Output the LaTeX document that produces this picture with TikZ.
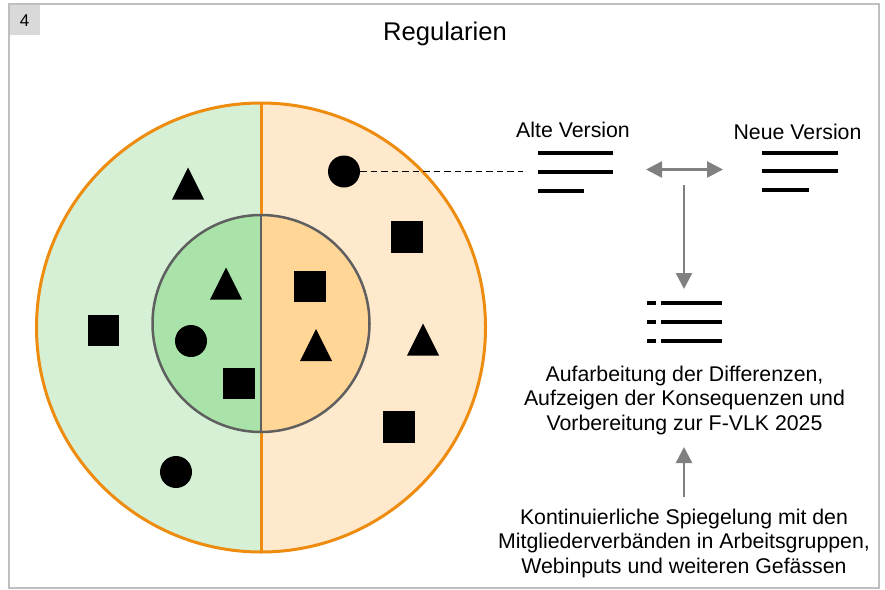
\documentclass[tikz,border=0pt]{standalone}
\usepackage{fontspec}
\setmainfont{Liberation Sans}
\usetikzlibrary{arrows.meta,calc}

\definecolor{frameg}{HTML}{BFBFBF}
\definecolor{badgeg}{HTML}{D9D9D9}
\definecolor{ring}{HTML}{EE8C0F}
\definecolor{outerL}{HTML}{D5F0D5}
\definecolor{outerR}{HTML}{FFE9CC}
\definecolor{innerL}{HTML}{A9E3A9}
\definecolor{innerR}{HTML}{FFD696}
\definecolor{innerline}{HTML}{5F5F5F}
\definecolor{arrowg}{HTML}{808080}

\tikzset{
  bodytext/.style={font=\fontsize{21.3}{24.5}\selectfont, align=center, inner sep=0pt},
  dot/.style={circle, fill=black, minimum size=32pt, inner sep=0pt},
  sq/.style={rectangle, fill=black, minimum size=31.5pt, inner sep=0pt},
  tri/.pic={\fill[black] (-16,16) -- (0,-16) -- (16,16) -- cycle;},
  bar/.style={line width=4pt, black},
  garrow/.style={arrowg, line width=2.5pt},
  gtip/.tip={Triangle[length=16pt,width=16pt]},
}

\begin{document}
\begin{tikzpicture}[x=1pt,y=-1pt]
\useasboundingbox (0,0) rectangle (885,589);
\fill[white] (0,0) rectangle (885,589);

% slide number badge and frame
\fill[badgeg] (9,4) rectangle (40,35);
\node[font=\fontsize{17}{19}\selectfont, inner sep=0pt, anchor=base] (num) at (24.5,26.5) {4};
\draw[frameg, line width=2pt] (9,4) rectangle (879,588);

% title
\node[font=\fontsize{25.6}{28}\selectfont, inner sep=0pt, anchor=base] (title) at (445,40) {Regularien};

% outer disc, split in two halves
\coordinate (oc) at (261,327.5);
\begin{scope}
  \clip (oc) circle[radius=224.5pt];
  \fill[outerL] (30,95) rectangle (261,560);
  \fill[outerR] (261,95) rectangle (495,560);
\end{scope}
\draw[ring, line width=3pt] (oc) circle[radius=224.5pt];
\draw[ring, line width=3pt] (261,103) -- (261,552);

% inner disc, split in two halves
\coordinate (ic) at (261,323.5);
\begin{scope}
  \clip (ic) circle[radius=108.5pt];
  \fill[innerL] (150,210) rectangle (261,440);
  \fill[innerR] (261,210) rectangle (375,440);
\end{scope}
\draw[innerline, line width=2.5pt] (ic) circle[radius=108.5pt];
\draw[innerline, line width=2.5pt] (261,215) -- (261,432);

% shapes in the outer ring
\pic (t1) at (188,183.5) {tri};
\node[sq] (s1) at (103.5,330.5) {};
\node[dot] (c1) at (176,472) {};
\node[dot] (c2) at (344,171.5) {};
\node[sq] (s2) at (407,237) {};
\pic (t2) at (423,339.5) {tri};
\node[sq] (s3) at (399,427) {};

% shapes in the inner disc
\pic (t3) at (226,283.5) {tri};
\node[dot] (c3) at (191,341) {};
\node[sq] (s4) at (239,383.5) {};
\node[sq] (s5) at (310,286.5) {};
\pic (t4) at (316,345) {tri};

% document icons
\node[bodytext, anchor=base] (alt) at (573,137) {Alte Version};
\node[bodytext, anchor=base] (neu) at (797.5,139) {Neue Version};
\coordinate (altdoc) at (523,171.5);
\draw[bar] (538,152.5) -- (613,152.5);
\draw[bar] (538,171.5) -- (613,171.5);
\draw[bar] (538,190.5) -- (584,190.5);
\draw[bar] (762,152.5) -- (838,152.5);
\draw[bar] (762,171) -- (838,171);
\draw[bar] (762,190) -- (809,190);

% merged list icon
\draw[bar] (647,302.5) -- (656,302.5);
\draw[bar] (661,302.5) -- (722,302.5);
\draw[bar] (647,321.5) -- (656,321.5);
\draw[bar] (661,321.5) -- (722,321.5);
\draw[bar] (647,340.5) -- (656,340.5);
\draw[bar] (661,340.5) -- (722,340.5);

% link from the ring to the old version
\draw[black, line width=1pt, dash pattern=on 6.5pt off 4pt] (c2.east) -- (altdoc);

% comparison and merge arrows
\coordinate (cmpL) at (646,169.5);
\coordinate (cmpR) at (723,169.5);
\coordinate (dtop) at (684,185);
\coordinate (dbot) at (684,289);
\draw[garrow, {gtip}-{gtip}] (cmpL) -- (cmpR);
\draw[garrow, -{gtip}] (dtop) -- (dbot);

% explanatory texts
\node[bodytext] (diff) at (684.5,400) {Aufarbeitung der Differenzen,\\Aufzeigen der Konsequenzen und\\Vorbereitung zur F-VLK 2025};
\node[bodytext] (mirror) at (684,543) {Kontinuierliche Spiegelung mit den\\Mitgliederverbänden in Arbeitsgruppen,\\Webinputs und weiteren Gefässen};
\coordinate (up0) at (684,497);
\coordinate (up1) at (684,447);
\draw[garrow, -{gtip}] (up0) -- (up1);
\end{tikzpicture}
\end{document}
